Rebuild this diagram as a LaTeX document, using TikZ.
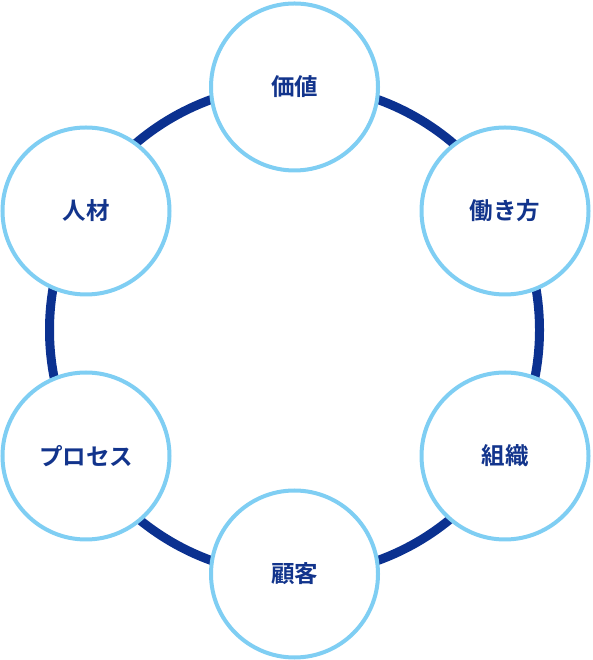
\documentclass[tikz,border=0pt]{standalone}
\usepackage{fontspec}
\newfontfamily\cjk{Noto Sans CJK JP Bold}
\definecolor{ringblue}{HTML}{0B3190}
\definecolor{textblue}{HTML}{12348C}
\definecolor{skyblue}{HTML}{7FCEF3}
\begin{document}
\begin{tikzpicture}[x=1pt,y=1pt,every node/.style={circle, draw=skyblue, line width=4pt, fill=white, minimum size=167pt, inner sep=0pt, text=textblue, font=\cjk\fontsize{23.5pt}{24pt}\selectfont}]
\useasboundingbox (0,0) rectangle (592,660);

\coordinate (hub) at (294.5,330);
\draw[color=ringblue,line width=9pt] (hub) circle (245);

\node (kachi)    at (294.5,573) {価値};
\node (hataraki) at (505,449)   {働き方};
\node (soshiki)  at (505,204)   {組織};
\node (kokyaku)  at (294.5,86)  {顧客};
\node (process)  at (86,204)    {プロセス};
\node (jinzai)   at (86,449)    {人材};
\end{tikzpicture}
\end{document}
